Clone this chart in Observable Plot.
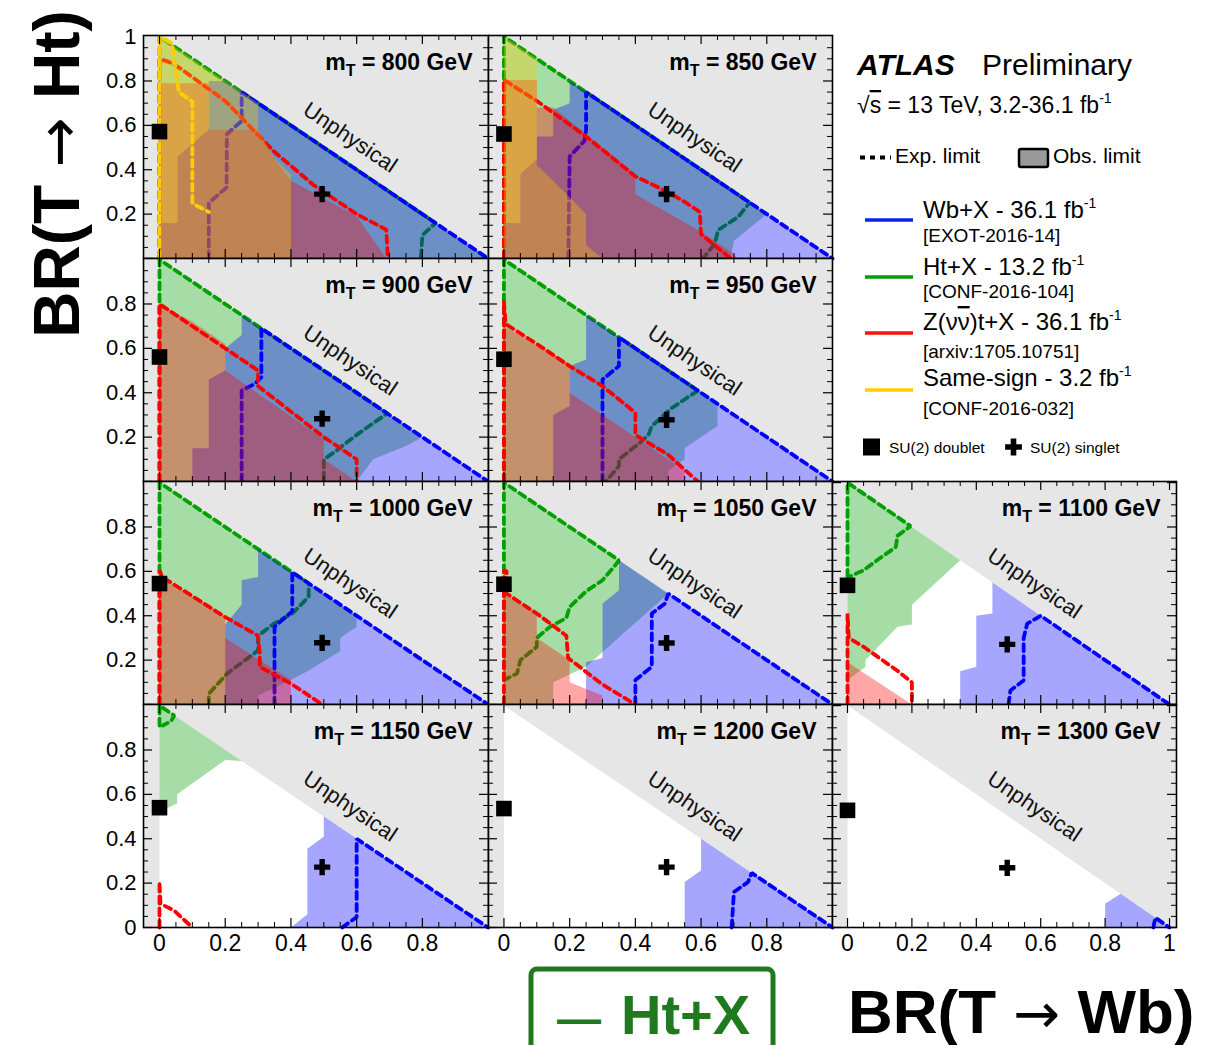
<!DOCTYPE html>
<html>
<head>
<meta charset="utf-8">
<script src="https://cdn.jsdelivr.net/npm/d3@7"></script>
<script src="https://cdn.jsdelivr.net/npm/@observablehq/plot@0.6"></script>
<style>
  html, body { margin: 0; padding: 0; background: #fff; }
  #chart { position: relative; width: 1223px; height: 1045px; overflow: hidden; background: #fff; }
  #chart svg { position: absolute; }
</style>
</head>
<body>
<div id="chart"></div>
<script>
// Vector-like top partner masses (GeV), one panel each
const masses = [800, 850, 900, 950, 1000, 1050, 1100, 1150, 1200, 1300];

// Benchmark points [BR(T→Wb), BR(T→Ht)] for each mass
const doublet = [[0, 0.572], [0, 0.561], [0, 0.561], [0, 0.551], [0, 0.545], [0, 0.542], [0, 0.537], [0, 0.540], [0, 0.536], [0, 0.528]];
const singlet = [[0.495, 0.290], [0.495, 0.290], [0.495, 0.283], [0.495, 0.278], [0.495, 0.278], [0.495, 0.277], [0.496, 0.271], [0.495, 0.272], [0.495, 0.272], [0.496, 0.269]];

// Axis ticks
const tickValues = [0, 0.2, 0.4, 0.6, 0.8, 1];
const tickLabels = ["0", "0.2", "0.4", "0.6", "0.8", "1"];

// Observed excluded regions, vertices [BR(T→Wb), BR(T→Ht)]
const htObserved = [
  [800, [[0, 0], [0, 1], [1, 0]]],
  [850, [[0, 0], [0, 1], [0.80, 0.20], [0.70, 0.08], [0.69, 0]]],
  [900, [[0, 0], [0, 1], [0.80, 0.20], [0.75, 0.16], [0.65, 0.10], [0.60, 0]]],
  [950, [[0, 0], [0, 1], [0.65, 0.35], [0.65, 0.25], [0.55, 0.15], [0.55, 0.10], [0.50, 0.05], [0.50, 0]]],
  [1000, [[0, 0], [0, 1], [0.60, 0.40], [0.60, 0.35], [0.55, 0.30], [0.55, 0.24], [0.45, 0.15], [0.40, 0.11], [0.30, 0.04], [0.30, 0]]],
  [1050, [[0, 0], [0, 1], [0.50, 0.50], [0.25, 0.17], [0.15, 0.10], [0.15, 0]]],
  [1100, [[0, 0.11], [0, 1], [0.35, 0.65], [0.20, 0.45], [0.20, 0.36], [0.155, 0.35], [0.056, 0.20], [0.056, 0.17]]],
  [1150, [[0, 0.52], [0, 1], [0.25, 0.75], [0.20, 0.755], [0.054, 0.60], [0.054, 0.56]]]
];
const wbObserved = [
  [800, [[0, 0], [0, 0.16], [0.055, 0.16], [0.055, 0.46], [0.15, 0.58], [0.15, 0.80], [0.20, 0.80], [1, 0]]],
  [850, [[0, 0], [0, 0.16], [0.05, 0.16], [0.05, 0.38], [0.10, 0.45], [0.10, 0.55], [0.15, 0.55], [0.15, 0.67], [0.20, 0.70], [0.20, 0.80], [1, 0]]],
  [900, [[0.10, 0], [0.10, 0.15], [0.15, 0.15], [0.15, 0.46], [0.20, 0.50], [0.20, 0.60], [0.25, 0.66], [0.25, 0.75], [1, 0]]],
  [950, [[0.15, 0], [0.15, 0.30], [0.20, 0.34], [0.20, 0.52], [0.25, 0.55], [0.25, 0.75], [1, 0]]],
  [1000, [[0.20, 0], [0.20, 0.36], [0.25, 0.45], [0.25, 0.56], [0.30, 0.575], [0.30, 0.70], [1, 0]]],
  [1050, [[0.25, 0], [0.25, 0.19], [0.30, 0.21], [0.30, 0.455], [0.35, 0.515], [0.35, 0.65], [1, 0]]],
  [1100, [[0.35, 0], [0.35, 0.15], [0.40, 0.17], [0.40, 0.40], [0.45, 0.41], [0.45, 0.55], [1, 0]]],
  [1150, [[0.40, 0], [0.45, 0.06], [0.45, 0.355], [0.50, 0.41], [0.50, 0.50], [1, 0]]],
  [1200, [[0.55, 0], [0.55, 0.205], [0.60, 0.257], [0.60, 0.40], [1, 0]]],
  [1300, [[0.80, 0], [0.80, 0.107], [0.848, 0.152], [1, 0]]]
];
const ztObserved = [
  [800, [[0, 0], [0, 0.79], [0.15, 0.79], [0.15, 0.58], [0.30, 0.58], [0.35, 0.45], [0.40, 0.35], [0.60, 0.19], [0.69, 0]]],
  [850, [[0, 0], [0, 0.805], [0.10, 0.805], [0.10, 0.68], [0.15, 0.68], [0.40, 0.38], [0.40, 0.29], [0.60, 0.12], [0.70, 0.02], [0.71, 0]]],
  [900, [[0, 0], [0, 0.80], [0.10, 0.72], [0.20, 0.62], [0.20, 0.50], [0.50, 0.19], [0.50, 0.10], [0.60, 0]]],
  [950, [[0, 0], [0, 0.70], [0.20, 0.53], [0.20, 0.40], [0.50, 0.10], [0.55, 0.05], [0.55, 0]]],
  [1000, [[0, 0], [0, 0.575], [0.20, 0.40], [0.20, 0.30], [0.40, 0.11], [0.40, 0]]],
  [1050, [[0, 0], [0, 0.50], [0.10, 0.41], [0.10, 0.30], [0.20, 0.20], [0.20, 0.10], [0.30, 0.04], [0.30, 0]]],
  [1100, [[0, 0], [0, 0.19], [0.20, 0]]]
];
const ssObserved = [
  [800, [[0, 0], [0, 1], [0.30, 0.70], [0.30, 0.58], [0.35, 0.45], [0.40, 0.38], [0.40, 0]]],
  [850, [[0, 0], [0, 1], [0.10, 0.90], [0.10, 0.42], [0.15, 0.35], [0.25, 0.20], [0.25, 0.06], [0.30, 0]]]
];

// Expected exclusion contours
const htExpected = [
  [800, [[0, 0], [0, 1], [0.84, 0.16], [0.80, 0.105], [0.795, 0]]],
  [850, [[0, 0], [0, 1], [0.748, 0.252], [0.713, 0.188], [0.652, 0.128], [0.642, 0.068], [0.606, 0]]],
  [900, [[0, 0], [0, 1], [0.693, 0.307], [0.60, 0.21], [0.53, 0.13], [0.50, 0.10], [0.50, 0]]],
  [950, [[0, 0], [0, 1], [0.59, 0.41], [0.51, 0.33], [0.45, 0.25], [0.44, 0.21], [0.41, 0.17], [0.35, 0.10], [0.35, 0.07], [0.31, 0]]],
  [1000, [[0, 0], [0, 1], [0.454, 0.546], [0.454, 0.485], [0.404, 0.41], [0.348, 0.364], [0.30, 0.31], [0.30, 0.244], [0.27, 0.21], [0.206, 0.14], [0.15, 0.048], [0.15, 0]]],
  [1050, [[0, 0.11], [0, 1], [0.35, 0.65], [0.34, 0.63], [0.30, 0.56], [0.25, 0.51], [0.20, 0.44], [0.19, 0.39], [0.14, 0.35], [0.10, 0.30], [0.10, 0.26], [0.05, 0.20], [0.04, 0.14], [0, 0.11]]],
  [1100, [[0, 0.575], [0, 1], [0.196, 0.804], [0.155, 0.76], [0.15, 0.71], [0.092, 0.65], [0.05, 0.605], [0.004, 0.575]]],
  [1150, [[0, 0.91], [0, 1], [0.045, 0.955], [0.035, 0.93], [0.01, 0.91]]]
];
const wbExpected = [
  [800, [[0.15, 0], [0.15, 0.25], [0.204, 0.32], [0.205, 0.56], [0.25, 0.62], [0.25, 0.75], [1, 0]]],
  [850, [[0.196, 0], [0.20, 0.46], [0.245, 0.53], [0.25, 0.58], [0.25, 0.75], [1, 0]]],
  [900, [[0.25, 0], [0.25, 0.41], [0.29, 0.44], [0.31, 0.47], [0.31, 0.69], [1, 0]]],
  [950, [[0.30, 0], [0.30, 0.46], [0.35, 0.52], [0.35, 0.65], [1, 0]]],
  [1000, [[0.35, 0], [0.35, 0.35], [0.404, 0.42], [0.404, 0.596], [1, 0]]],
  [1050, [[0.40, 0], [0.40, 0.11], [0.45, 0.17], [0.45, 0.41], [0.49, 0.455], [0.50, 0.50], [1, 0]]],
  [1100, [[0.50, 0], [0.506, 0.063], [0.547, 0.108], [0.547, 0.30], [0.558, 0.364], [0.60, 0.40], [1, 0]]],
  [1150, [[0.556, 0], [0.60, 0.047], [0.60, 0.40], [1, 0]]],
  [1200, [[0.693, 0], [0.70, 0.16], [0.743, 0.205], [0.754, 0.246], [1, 0]]],
  [1300, [[0.95, 0], [0.956, 0.044], [1, 0]]]
];
const ztExpected = [
  [800, [[0, 0], [0, 0.90], [0.03, 0.885], [0.06, 0.86], [0.20, 0.71], [0.35, 0.48], [0.47, 0.33], [0.60, 0.20], [0.69, 0.13], [0.695, 0]]],
  [850, [[0, 0], [0, 0.805], [0.10, 0.71], [0.25, 0.55], [0.40, 0.37], [0.47, 0.32], [0.54, 0.265], [0.596, 0.21], [0.60, 0.11], [0.69, 0]]],
  [900, [[0, 0], [0, 0.80], [0.20, 0.60], [0.30, 0.50], [0.30, 0.43], [0.50, 0.20], [0.60, 0.10], [0.60, 0]]],
  [950, [[0, 0], [0, 0.81], [0.005, 0.71], [0.10, 0.62], [0.20, 0.52], [0.30, 0.43], [0.40, 0.31], [0.40, 0.21], [0.50, 0.12], [0.59, 0]]],
  [1000, [[0, 0], [0, 0.605], [0.008, 0.575], [0.20, 0.394], [0.30, 0.31], [0.305, 0.23], [0.305, 0.17], [0.40, 0.094], [0.495, 0]]],
  [1050, [[0, 0], [0, 0.605], [0.008, 0.60], [0.008, 0.50], [0.10, 0.41], [0.19, 0.31], [0.195, 0.21], [0.297, 0.093], [0.40, 0]]],
  [1100, [[0, 0], [0, 0.41], [0.004, 0.30], [0.05, 0.26], [0.154, 0.153], [0.20, 0.10], [0.20, 0]]],
  [1150, [[0, 0], [0, 0.205], [0.003, 0.107], [0.044, 0.077], [0.10, 0]]]
];
const ssExpected = [
  [800, [[0, 0], [0, 1], [0.038, 0.97], [0.059, 0.75], [0.10, 0.707], [0.10, 0.248], [0.15, 0.21]]]
];

// ---------------------------------------------------------------------------
const FONT = '"Liberation Sans", Arial, Helvetica, sans-serif';
const COLS = [
  {left: 143, width: 345, domain: [-0.0487, 1.0012]},
  {left: 488, width: 344, domain: [-0.047, 1.0]},
  {left: 832, width: 344, domain: [-0.0466, 1.0217]}
];
const ROW_TOP = [35, 258, 481, 704];
const PANEL_H = 223;
const Y_DOMAIN = [0, 1.005];
const PLACE = new Map([[800, [0, 0]], [850, [1, 0]], [900, [0, 1]], [950, [1, 1]], [1000, [0, 2]],
  [1050, [1, 2]], [1100, [2, 2]], [1150, [0, 3]], [1200, [1, 3]], [1300, [2, 3]]]);

const analyses = [
  {obs: new Map(htObserved), exp: new Map(htExpected), fill: "rgb(0,158,0)", line: "#00a000"},
  {obs: new Map(wbObserved), exp: new Map(wbExpected), fill: "rgb(0,0,255)", line: "#0000ff"},
  {obs: new Map(ztObserved), exp: new Map(ztExpected), fill: "rgb(255,0,0)", line: "#ff0000"},
  {obs: new Map(ssObserved), exp: new Map(ssExpected), fill: "rgb(255,204,0)", line: "#ffcc00"}
];

const physical = [[0, 0], [0, 1], [1, 0]];
const fine = d3.range(0, 21).map(i => i * 0.05);
const minorTicks = fine.filter((v, i) => i % 4 !== 0);
const px = p => p[0], py = p => p[1];
const labelFor = v => tickLabels[tickValues.findIndex(t => Math.abs(t - v) < 1e-9)];

function panel(m, i) {
  const [c, r] = PLACE.get(m);
  const col = COLS[c];
  const xd = col.domain;
  const kx = (xd[1] - xd[0]) / col.width;
  const ky = (Y_DOMAIN[1] - Y_DOMAIN[0]) / PANEL_H;
  const marks = [
    Plot.frame({fill: "#e6e6e6", stroke: "none"}),
    Plot.line(physical, {x: px, y: py, fill: "white", stroke: "none"})
  ];
  for (const a of analyses) {
    const o = a.obs.get(m);
    if (o) marks.push(Plot.line(o, {x: px, y: py, fill: a.fill, fillOpacity: 0.35, stroke: "none"}));
    const e = a.exp.get(m);
    if (e) marks.push(Plot.line(e, {x: px, y: py, stroke: a.line, strokeWidth: 3.8, strokeDasharray: "7,5",
      strokeLinejoin: "miter", fill: "none"}));
  }
  // inward ticks on all four sides
  const tickSet = (vals, len, w) => [
    Plot.ruleX(vals, {x: d => d, y1: () => Y_DOMAIN[0], y2: () => Y_DOMAIN[0] + len * ky, stroke: "black", strokeWidth: w}),
    Plot.ruleX(vals, {x: d => d, y1: () => Y_DOMAIN[1], y2: () => Y_DOMAIN[1] - len * ky, stroke: "black", strokeWidth: w}),
    Plot.ruleY(vals, {y: d => d, x1: () => xd[0], x2: () => xd[0] + len * kx, stroke: "black", strokeWidth: w}),
    Plot.ruleY(vals, {y: d => d, x1: () => xd[1], x2: () => xd[1] - len * kx, stroke: "black", strokeWidth: w})
  ];
  marks.push(...tickSet(tickValues.filter(v => v < 1 || c === 2), 9, 1.2));
  marks.push(...tickSet(minorTicks, 5, 1));
  marks.push(Plot.frame({stroke: "black", strokeWidth: 1.6}));
  marks.push(Plot.text(["Unphysical"], {x: () => 0.58, y: () => 0.545, rotate: 34, fontSize: 22, fill: "#111"}));
  marks.push(Plot.dot([doublet[i]], {x: px, y: py, symbol: "square", r: 8.8, fill: "black", stroke: "none"}));
  marks.push(Plot.dot([singlet[i]], {x: px, y: py, symbol: "cross", r: 6.8, fill: "black", stroke: "none"}));
  marks.push(Plot.text([m], {frameAnchor: "top-right", dx: -16, dy: 34, text: d => `mT = ${d} GeV`,
    fontSize: 23, fontWeight: "bold", textAnchor: "end", lineAnchor: "bottom", fill: "black"}));
  // tick labels on the outer edges
  if (c === 0) {
    const yl = r === 0 ? [0.2, 0.4, 0.6, 0.8, 1] : r === 3 ? [0, 0.2, 0.4, 0.6, 0.8] : [0.2, 0.4, 0.6, 0.8];
    marks.push(Plot.text(yl, {x: () => xd[0], y: d => d, text: labelFor, textAnchor: "end", dx: -7, fontSize: 22, fill: "black"}));
  }
  if (r === 3) {
    const xl = c === 2 ? [0, 0.2, 0.4, 0.6, 0.8, 1] : [0, 0.2, 0.4, 0.6, 0.8];
    marks.push(Plot.text(xl, {x: d => d, y: () => Y_DOMAIN[0], text: labelFor, dy: 16, fontSize: 23, fill: "black"}));
  }
  const svg = Plot.plot({
    width: col.width, height: PANEL_H, margin: 0,
    x: {domain: xd, axis: null},
    y: {domain: Y_DOMAIN, axis: null},
    style: {overflow: "visible", fontFamily: FONT, color: "black", background: "transparent", maxWidth: "none"},
    marks
  });
  // subscript T in the mass label
  const ns = "http://www.w3.org/2000/svg";
  svg.querySelectorAll("text").forEach(t => {
    const s = t.textContent;
    if (s.startsWith("mT = ")) {
      while (t.firstChild) t.removeChild(t.firstChild);
      const a = document.createElementNS(ns, "tspan"); a.textContent = "m";
      const b = document.createElementNS(ns, "tspan"); b.textContent = "T";
      b.setAttribute("font-size", "16"); b.setAttribute("dy", "6");
      const d = document.createElementNS(ns, "tspan"); d.textContent = s.slice(2); d.setAttribute("dy", "-6");
      t.append(a, b, d);
    }
  });
  svg.style.left = col.left + "px";
  svg.style.top = ROW_TOP[r] + "px";
  return svg;
}

const chart = document.getElementById("chart");
masses.forEach((m, i) => chart.appendChild(panel(m, i)));

// ---------------------------------------------------------------------------
// Titles, legend and annotation
const ov = d3.create("svg").attr("width", 1223).attr("height", 1045)
  .style("left", "0px").style("top", "0px").style("pointer-events", "none")
  .attr("font-family", FONT);

function axisTitle(sel, before, after, arrowSize) {
  sel.append("tspan").text(before);
  sel.append("tspan").attr("font-family", '"DejaVu Sans", sans-serif').attr("font-weight", "normal")
    .attr("font-size", arrowSize).text("\u2192");
  sel.append("tspan").text(after);
}
axisTitle(ov.append("text").attr("transform", "translate(79,174) rotate(-90)").attr("text-anchor", "middle")
  .attr("font-size", 64).attr("font-weight", "bold"), "BR(T ", " Ht)", 60);
axisTitle(ov.append("text").attr("x", 848).attr("y", 1033).attr("font-size", 62).attr("font-weight", "bold"),
  "BR(T ", " Wb)", 56);

ov.append("rect").attr("x", 531).attr("y", 969).attr("width", 242).attr("height", 100).attr("rx", 6)
  .attr("fill", "none").attr("stroke", "#1f7a1f").attr("stroke-width", 5);
const hx = ov.append("text").attr("y", 1034).attr("font-weight", "bold").attr("fill", "#1f7a1f");
hx.append("tspan").attr("x", 557).attr("font-size", 44).text("\u2014");
hx.append("tspan").attr("x", 621).attr("font-size", 56).text("Ht+X");

ov.append("text").attr("x", 857).attr("y", 75).attr("font-size", 30).attr("font-weight", "bold")
  .attr("font-style", "italic").text("ATLAS");
ov.append("text").attr("x", 982).attr("y", 75).attr("font-size", 30).text("Preliminary");

function supText(x, y, size, parts, sup) {
  const t = ov.append("text").attr("x", x).attr("y", y).attr("font-size", size);
  for (const [s, over] of parts) {
    const ts = t.append("tspan").text(s);
    if (over) ts.attr("text-decoration", "overline").style("text-decoration", "overline");
  }
  if (sup) {
    t.append("tspan").attr("dy", -10).attr("font-size", 14).text(sup);
  }
  return t;
}
supText(857, 113, 23, [["\u221a", false], ["s", true], [" = 13 TeV, 3.2-36.1 fb", false]], "-1");

ov.append("line").attr("x1", 860).attr("x2", 891).attr("y1", 157.5).attr("y2", 157.5)
  .attr("stroke", "black").attr("stroke-width", 4).attr("stroke-dasharray", "5,5");
ov.append("text").attr("x", 895).attr("y", 163).attr("font-size", 21).text("Exp. limit");
ov.append("rect").attr("x", 1019).attr("y", 149).attr("width", 29).attr("height", 18).attr("rx", 2)
  .attr("fill", "#999").attr("stroke", "black").attr("stroke-width", 2.5);
ov.append("text").attr("x", 1053).attr("y", 163).attr("font-size", 21).text("Obs. limit");

const legendRows = [
  {line: "#0a1ff0", y: 220, parts: [["Wb+X - 36.1 fb", false]], ref: "[EXOT-2016-14]", ty: 218, ry: 242},
  {line: "#0a9a0a", y: 277, parts: [["Ht+X - 13.2 fb", false]], ref: "[CONF-2016-104]", ty: 275, ry: 298},
  {line: "#ff1010", y: 333, parts: [["Z(\u03bd", false], ["\u03bd", true], [")t+X - 36.1 fb", false]], ref: "[arxiv:1705.10751]", ty: 330, ry: 358},
  {line: "#ffcc00", y: 390, parts: [["Same-sign - 3.2 fb", false]], ref: "[CONF-2016-032]", ty: 386, ry: 415}
];
for (const L of legendRows) {
  ov.append("line").attr("x1", 865).attr("x2", 913).attr("y1", L.y).attr("y2", L.y)
    .attr("stroke", L.line).attr("stroke-width", 3.3);
  supText(923, L.ty, 24, L.parts, "-1");
  ov.append("text").attr("x", 923).attr("y", L.ry).attr("font-size", 19).text(L.ref);
}
ov.append("path").attr("d", d3.symbol(d3.symbolSquare, 17 * 17)()).attr("transform", "translate(871.5,447)");
ov.append("text").attr("x", 889).attr("y", 453).attr("font-size", 15.5).text("SU(2) doublet");
ov.append("path").attr("d", d3.symbol(d3.symbolCross, 5 * 5.6 * 5.6)()).attr("transform", "translate(1013.5,447)");
ov.append("text").attr("x", 1030).attr("y", 453).attr("font-size", 15.5).text("SU(2) singlet");

chart.appendChild(ov.node());
</script>
</body>
</html>
